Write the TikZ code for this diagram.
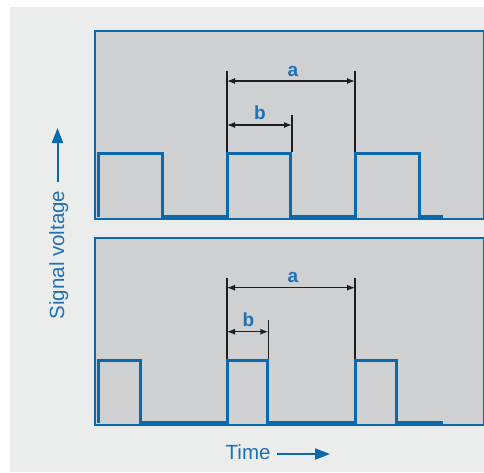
\documentclass[tikz,border=0pt]{standalone}
\usepackage{fontspec}
\setmainfont{Liberation Sans}
\usetikzlibrary{arrows.meta}
\definecolor{bgc}{HTML}{EBECEC}
\definecolor{panelc}{HTML}{CFD0D2}
\definecolor{sigblue}{HTML}{0A69AD}
\definecolor{txtblue}{HTML}{1F70B5}
\definecolor{dimc}{HTML}{1E1E1E}
\tikzset{
  panel/.style={draw=sigblue, fill=panelc, line width=1.2pt},
  sig/.style={draw=sigblue, line width=3pt, line join=miter},
  extline/.style={draw=dimc, line width=1.2pt},
  dimarrow/.style={draw=dimc, line width=1.2pt, {Latex[length=8pt,width=6pt]}-{Latex[length=8pt,width=6pt]}},
  dimlabel/.style={text=txtblue, font=\fontsize{19}{19}\selectfont\bfseries, inner sep=0pt, anchor=base},
  axislabel/.style={text=txtblue, font=\fontsize{20.5}{20.5}\selectfont, inner sep=0pt},
  axisarrow/.style={draw=sigblue, line width=2pt, -{Triangle[length=15pt,width=11pt]}}
}
\begin{document}
\begin{tikzpicture}[x=1pt,y=-1pt]
\useasboundingbox (0,0) rectangle (484,472);
\fill[bgc] (10,7) rectangle (484,472);
% panels
\draw[panel] (95,31) rectangle (483.4,219);
\draw[panel] (95,238) rectangle (483.4,425);
% signal 1
\draw[sig] (98,217) -- (98,153) -- (162,153) -- (162,216.5) -- (227.7,216.5) -- (227.7,153) -- (290.7,153) -- (290.7,216.5) -- (355,216.5) -- (355,153) -- (419.7,153) -- (419.7,216.5) -- (443,216.5);
% signal 2
\draw[sig] (98,423) -- (98,360.3) -- (140.5,360.3) -- (140.5,422.7) -- (227.7,422.7) -- (227.7,360.3) -- (267.7,360.3) -- (267.7,422.7) -- (355,422.7) -- (355,360.3) -- (396.7,360.3) -- (396.7,422.7) -- (443,422.7);
% dimensions panel 1
\coordinate (a1l) at (227,81);
\coordinate (a1r) at (355,81);
\coordinate (b1l) at (227,125);
\coordinate (b1r) at (292,125);
\draw[extline] (227,70.5) -- (227,152);
\draw[extline] (355,70.5) -- (355,152);
\draw[extline] (292,115) -- (292,152);
\draw[dimarrow] (a1l) -- (a1r);
\draw[dimarrow] (b1l) -- (b1r);
\node[dimlabel] (la1) at (293,76.5) {a};
\node[dimlabel] (lb1) at (260,119) {b};
% dimensions panel 2
\coordinate (a2l) at (227,287.7);
\coordinate (a2r) at (355,287.7);
\coordinate (b2l) at (227,331.7);
\coordinate (b2r) at (268.3,331.7);
\draw[extline] (227,277.5) -- (227,359);
\draw[extline] (355,277.5) -- (355,359);
\draw[extline] (268.3,320) -- (268.3,359);
\draw[dimarrow] (a2l) -- (a2r);
\draw[dimarrow] (b2l) -- (b2r);
\node[dimlabel] (la2) at (293,282) {a};
\node[dimlabel] (lb2) at (248.5,326) {b};
% axis labels
\node[axislabel, rotate=90, anchor=base] (sv) at (64,255) {Signal voltage};
\coordinate (svs) at (57.5,182);
\coordinate (sve) at (57.5,128);
\draw[axisarrow] (svs) -- (sve);
\node[axislabel, anchor=base west] (tm) at (225.5,459.5) {Time};
\coordinate (tms) at (277,454);
\coordinate (tme) at (330,454);
\draw[axisarrow] (tms) -- (tme);
\end{tikzpicture}
\end{document}
